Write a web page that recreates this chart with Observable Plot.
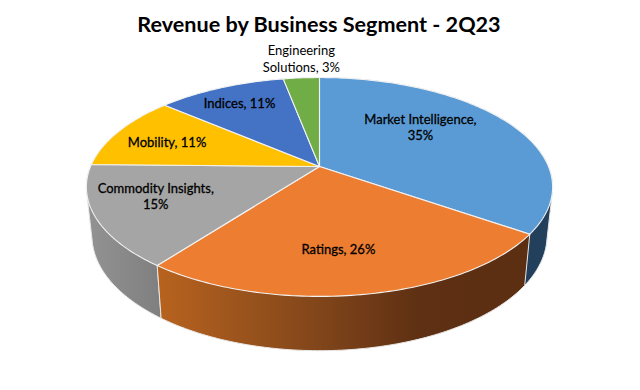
<!DOCTYPE html>
<html>
<head>
<meta charset="utf-8">
<script src="https://cdn.jsdelivr.net/npm/d3@7"></script>
<script src="https://cdn.jsdelivr.net/npm/@observablehq/plot@0.6"></script>
<style>
  html, body { margin: 0; background: #fff; }
  #title { box-sizing: border-box; height: 38px; padding-top: 8px; width: 638px; text-align: center; font: 700 21.6px/32px Lato, sans-serif; color: #000; white-space: nowrap; }
  svg { display: block; }
</style>
</head>
<body>
<div id="title"></div>
<div id="chart"></div>
<script>
const chartTitle = "Revenue by Business Segment - 2Q23";
const segments = ["Market Intelligence", "Ratings", "Commodity Insights", "Mobility", "Indices", "Engineering Solutions"];
const shares = [34.7, 25.6, 15, 11, 10.7, 3];
const labels = ["Market Intelligence,\n35%", "Ratings, 26%", "Commodity Insights,\n15%", "Mobility, 11%", "Indices, 11%", "Engineering\nSolutions, 3%"];
const topColors = ["#5b9bd5", "#ed7d31", "#a5a5a5", "#ffc000", "#4472c4", "#70ad47"];
const wallFills = ["#223f5c", "url(#wall-ratings)", "url(#wall-commodity)", null, null, null];
// painting order of the visible walls, back to front
const wallOrder = [0, 2, 1];
// how far along the centre-to-rim line each label sits (x, y)
const labelReachX = [0.54, 0.43, 0.73, 0.76, 0.81, 1];
const labelReachY = [0.89, 0.64, 0.58, 0.70, 0.81, 1.22];
const labelInk = [0.3, 0.3, 0.3, 0.3, 0.3, 0];

// perspective tilt of the pie and its extrusion
const tilt = -0.187, wallScale = 0.976, wallDrop = 0.4527, wallStretch = 1.05;

function project(deg, r = 1) {
  const a = deg * Math.PI / 180, u = r * Math.sin(a), v = -r * Math.cos(a), d = 1 + tilt * v;
  return {x: u / d, y: v / d};
}
const lower = (p) => ({x: p.x * wallScale, y: wallDrop + p.y * wallStretch});
function arc(a0, a1) {
  const n = Math.max(2, Math.ceil(Math.abs(a1 - a0))), pts = [];
  for (let i = 0; i <= n; i++) pts.push(project(a0 + (a1 - a0) * i / n));
  return pts;
}

const total = d3.sum(shares);
const cum = d3.cumsum(shares);
const slices = segments.map((name, i) => ({
  name,
  start: (i ? cum[i - 1] : 0) / total * 360,
  end: cum[i] / total * 360,
  color: topColors[i],
  wall: wallFills[i],
  label: labels[i],
  rx: labelReachX[i],
  ry: labelReachY[i],
  ink: labelInk[i]
}));

const topFace = (s) => [{x: 0, y: 0}, ...arc(s.start, s.end), {x: 0, y: 0}];
// the wall is the convex hull of a slice's top and bottom rims; the top faces paint over the rest
const wallFace = (s) => {
  const t = arc(s.start, s.end);
  const pts = [...t, ...t.map(lower)].map((p) => [p.x, p.y]);
  const hull = d3.polygonHull(pts).map(([x, y]) => ({x, y}));
  return [...hull, hull[0]];
};
const labelRows = slices.map((s) => {
  const m = project((s.start + s.end) / 2);
  return {x: m.x * s.rx, y: m.y * s.ry, label: s.label, ink: s.ink};
});

function gradient(defs, id, stops) {
  const g = defs.append("linearGradient").attr("id", id);
  for (const [o, c] of stops) g.append("stop").attr("offset", o).attr("stop-color", c);
}
const defsMark = () => {
  const defs = d3.create("svg:defs");
  gradient(defs, "wall-ratings", [[0, "#b8631f"], [0.44, "#80451a"], [0.7, "#5f3013"], [1, "#5c2f12"]]);
  gradient(defs, "wall-commodity", [[0, "#939393"], [1, "#7f7f7f"]]);
  return defs.node();
};

document.getElementById("title").textContent = chartTitle;

const plot = Plot.plot({
  width: 640,
  height: 352,
  margin: 0,
  x: {domain: [-1, 1], range: [90, 548], axis: null},
  y: {domain: [-1, 1], range: [22.4, 233.6], axis: null},
  style: {background: "#fff"},
  marks: [
    defsMark,
    ...wallOrder.map((i) => slices[i]).map((s) =>
      Plot.line(wallFace(s), {x: "x", y: "y", fill: s.wall, stroke: "#e8e8e8", strokeWidth: 1})),
    ...slices.map((s) =>
      Plot.line(topFace(s), {x: "x", y: "y", fill: s.color, stroke: "#f2f2f2", strokeWidth: 1.1})),
    ...labelRows.map((d) => Plot.text([d], {
      x: "x", y: "y", text: "label",
      fontFamily: "Lato, sans-serif", fontSize: 13, fontWeight: 400, fill: "#000", lineHeight: 1.25,
      stroke: "#000", strokeWidth: d.ink
    }))
  ]
});
document.getElementById("chart").append(plot);
</script>
</body>
</html>
